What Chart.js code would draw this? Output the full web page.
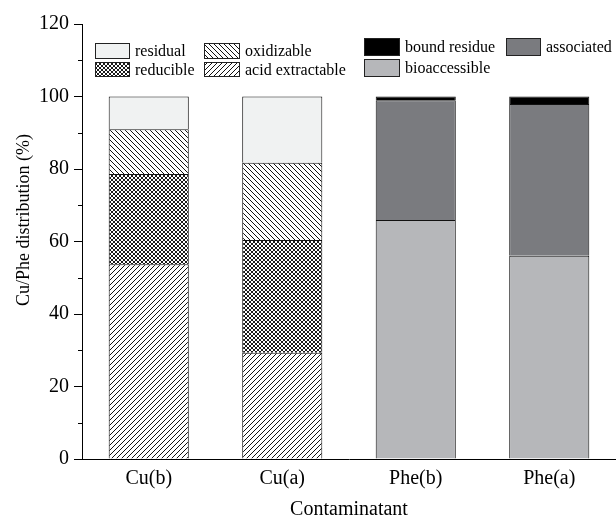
<!DOCTYPE html>
<html>
<head>
<meta charset="utf-8">
<script src="https://cdn.jsdelivr.net/npm/chart.js@4.4.0/dist/chart.umd.min.js"></script>
<style>
    html, body { margin: 0; padding: 0; background: #fff; }
    #wrap { width: 616px; height: 520px; }
</style>
</head>
<body>
<div id="wrap"><canvas id="chart" width="616" height="520"></canvas></div>
<script>
// Données (%)
const categories = ['Cu(b)', 'Cu(a)', 'Phe(b)', 'Phe(a)'];
const acidExtractable = [53.7, 29.3, null, null];
const reducible = [24.9, 31.1, null, null];
const oxidizable = [12.4, 21.3, null, null];
const residual = [9.0, 18.3, null, null];
const bioaccessible = [null, null, 65.9, 56.1];
const associated = [null, null, 33.1, 41.8];
const boundResidue = [null, null, 1.0, 2.1];
const yMinorTicks = [10, 30, 50, 70, 90, 110];

const FONT = '"Liberation Serif", "Times New Roman", serif';
const canvas = document.getElementById('chart');
const mainCtx = canvas.getContext('2d');

/**
 * Crée un motif de hachures
 */
function makeHatch(size, dirs, color, bg) {
    const c = document.createElement('canvas');
    c.width = size;
    c.height = size;
    const g = c.getContext('2d');
    g.fillStyle = bg;
    g.fillRect(0, 0, size, size);
    g.strokeStyle = color;
    g.lineWidth = 1;
    dirs.forEach(d => {
        g.beginPath();
        if (d === '/') {
            g.moveTo(-1, size + 1); g.lineTo(size + 1, -1);
            g.moveTo(-1, 1); g.lineTo(1, -1);
            g.moveTo(size - 1, size + 1); g.lineTo(size + 1, size - 1);
        } else {
            g.moveTo(-1, -1); g.lineTo(size + 1, size + 1);
            g.moveTo(size - 1, -1); g.lineTo(size + 1, 1);
            g.moveTo(-1, size - 1); g.lineTo(1, size + 1);
        }
        g.stroke();
    });
    return mainCtx.createPattern(c, 'repeat');
}

const acidFill = makeHatch(5, ['/'], '#111', '#fff');
const reducFill = makeHatch(4, ['/', '\\'], '#1a1a1a', '#fff');
const oxidFill = makeHatch(5, ['\\'], '#111', '#fff');
const residualFill = '#f0f2f2';

function barSet(label, data, fill) {
    return {
        label: label,
        data: data,
        backgroundColor: fill,
        borderColor: '#111',
        borderWidth: 1,
        borderSkipped: 'bottom',
        stack: 'all'
    };
}

// Légende dessinée en deux blocs comme sur la figure
const legendLayout = [
    { label: 'residual', x: 95, y: 43, w: 35, h: 16 },
    { label: 'oxidizable', x: 204, y: 43, w: 36, h: 16 },
    { label: 'reducible', x: 95, y: 62, w: 35, h: 15 },
    { label: 'acid extractable', x: 204, y: 62, w: 36, h: 15 },
    { label: 'bound residue', x: 364, y: 38, w: 36, h: 18 },
    { label: 'associated', x: 506, y: 38, w: 35, h: 18 },
    { label: 'bioaccessible', x: 364, y: 59, w: 36, h: 18 }
];

const extrasPlugin = {
    id: 'extras',
    afterDraw(chart) {
        const ctx = chart.ctx;
        const yScale = chart.scales.y;
        const axisX = chart.chartArea.left;
        ctx.save();
        // petites graduations
        ctx.strokeStyle = '#000';
        ctx.lineWidth = 1;
        yMinorTicks.forEach(v => {
            const py = Math.round(yScale.getPixelForValue(v)) + 0.5;
            ctx.beginPath();
            ctx.moveTo(axisX - 4, py);
            ctx.lineTo(axisX, py);
            ctx.stroke();
        });
        // titre de l'axe Y (décalé vers le haut comme sur la figure)
        ctx.save();
        ctx.translate(24, 220);
        ctx.rotate(-Math.PI / 2);
        ctx.font = '18px ' + FONT;
        ctx.fillStyle = '#000';
        ctx.textAlign = 'center';
        ctx.textBaseline = 'middle';
        ctx.fillText('Cu/Phe distribution (%)', 0, 0);
        ctx.restore();
        // légende
        ctx.font = '16px ' + FONT;
        ctx.textBaseline = 'middle';
        ctx.textAlign = 'left';
        legendLayout.forEach(item => {
            const ds = chart.data.datasets.find(d => d.label === item.label);
            ctx.fillStyle = ds.backgroundColor;
            ctx.fillRect(item.x, item.y, item.w, item.h);
            ctx.strokeStyle = '#222';
            ctx.strokeRect(item.x + 0.5, item.y + 0.5, item.w - 1, item.h - 1);
            ctx.fillStyle = '#000';
            ctx.fillText(item.label, item.x + item.w + 5, item.y + item.h / 2 + 1);
        });
        ctx.restore();
    }
};

new Chart(canvas, {
    type: 'bar',
    data: {
        labels: categories,
        datasets: [
            barSet('acid extractable', acidExtractable, acidFill),
            barSet('reducible', reducible, reducFill),
            barSet('oxidizable', oxidizable, oxidFill),
            barSet('residual', residual, residualFill),
            barSet('bioaccessible', bioaccessible, '#b6b7ba'),
            barSet('associated', associated, '#7a7b7f'),
            barSet('bound residue', boundResidue, '#000')
        ]
    },
    options: {
        responsive: false,
        devicePixelRatio: 1,
        animation: false,
        layout: { padding: { top: 24, right: 0, left: 0, bottom: 0 } },
        datasets: {
            bar: { barPercentage: 1, categoryPercentage: 0.6 }
        },
        plugins: {
            legend: { display: false },
            tooltip: { enabled: false }
        },
        scales: {
            x: {
                stacked: true,
                grid: { display: false, drawTicks: false },
                border: { display: true, color: '#000', width: 1 },
                ticks: { color: '#000', font: { family: FONT, size: 20 }, padding: 8 },
                title: {
                    display: true,
                    text: 'Contaminatant',
                    color: '#000',
                    font: { family: FONT, size: 20, lineHeight: 1 },
                    padding: { top: 0, bottom: 0 }
                },
                afterFit(scale) { scale.height = 61; }
            },
            y: {
                stacked: true,
                min: 0,
                max: 120,
                ticks: { stepSize: 20, color: '#000', font: { family: FONT, size: 20 }, padding: 5 },
                grid: { drawOnChartArea: false, drawTicks: true, tickLength: 8, color: '#000' },
                border: { display: true, color: '#000', width: 1 },
                afterFit(scale) { scale.width = 82; }
            }
        }
    },
    plugins: [extrasPlugin]
});
</script>
</body>
</html>
